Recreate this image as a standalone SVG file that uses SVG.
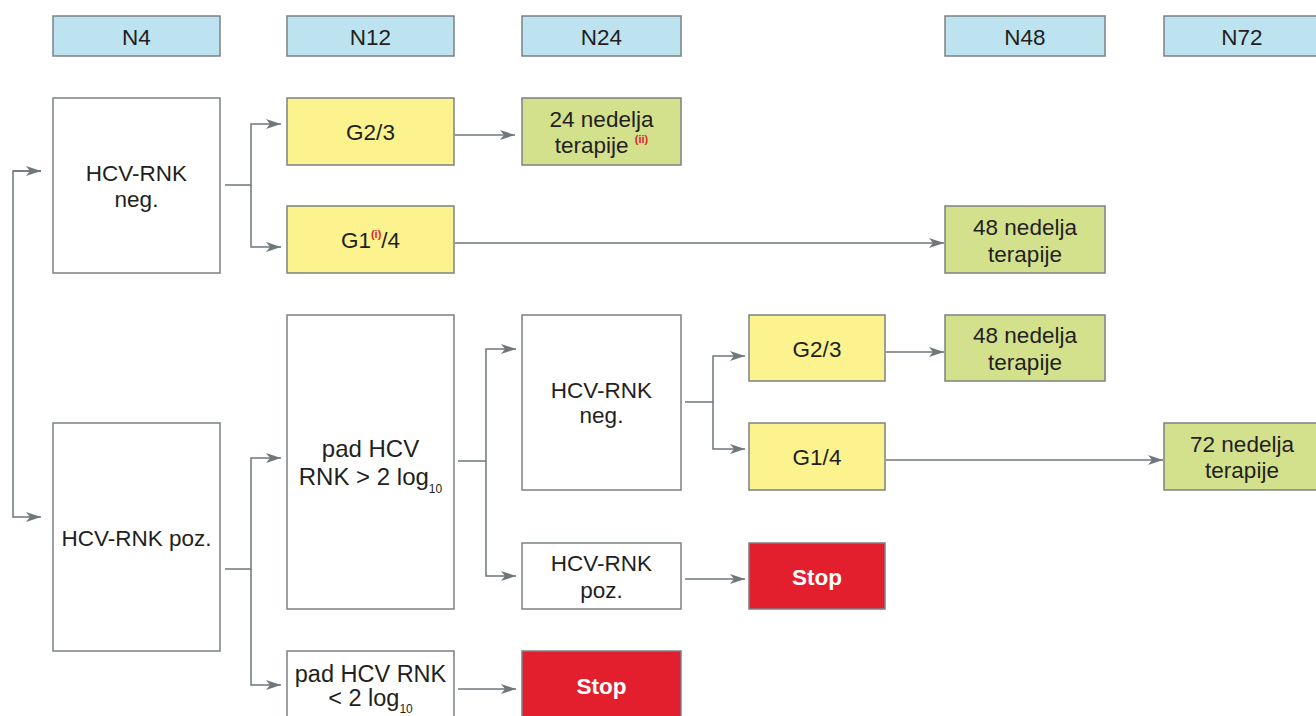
<svg xmlns="http://www.w3.org/2000/svg" width="1316" height="716" viewBox="0 0 1316 716">
  <defs>
    <style>
      text { font-family: "Liberation Sans", Arial, sans-serif; font-size: 22.5px; fill: #231f20; text-anchor: middle; }
      .hdr { fill: #bde3f1; stroke: #7b8185; stroke-width: 1.5; }
      .box { fill: #ffffff; stroke: #7b8185; stroke-width: 1.5; }
      .geno { fill: #fcf38e; stroke: #7b8185; stroke-width: 1.5; }
      .ther { fill: #d3e08c; stroke: #7b8185; stroke-width: 1.5; }
      .stop { fill: #e41f2d; stroke: #7b8185; stroke-width: 1.5; }
      .stoptxt { fill: #ffffff; font-weight: bold; }
      .big { font-size: 24px; }
      .mid { font-size: 23.5px; }
      .note { fill: #e41f2d; font-size: 11px; font-weight: bold; }
      .sub { font-size: 12px; }
      .conn { fill: none; stroke: #6e777b; stroke-width: 1.5; }
    </style>
    <marker id="arrow" markerUnits="userSpaceOnUse" markerWidth="16" markerHeight="12" refX="15" refY="6" orient="auto">
      <path d="M0,1 L15,6 L0,11 L4,6 z" fill="#6e777b"/>
    </marker>
  </defs>

  <!-- week headers -->
  <g id="header-n4"><rect class="hdr" x="53" y="16" width="167" height="40"/><text x="136.5" y="45">N4</text></g>
  <g id="header-n12"><rect class="hdr" x="287" y="16" width="167" height="40"/><text x="370.5" y="45">N12</text></g>
  <g id="header-n24"><rect class="hdr" x="522" y="16" width="159" height="40"/><text x="601.5" y="45">N24</text></g>
  <g id="header-n48"><rect class="hdr" x="945" y="16" width="160" height="40"/><text x="1025" y="45">N48</text></g>
  <g id="header-n72"><rect class="hdr" x="1164" y="16" width="160" height="40"/><text x="1242" y="45">N72</text></g>

  <!-- week 4 -->
  <g id="n4-neg"><rect class="box" x="53" y="98" width="167" height="175"/><text x="136.5" y="181">HCV-RNK</text><text x="136.5" y="207">neg.</text></g>
  <g id="n4-poz"><rect class="box" x="53" y="423" width="167" height="228"/><text x="136.5" y="546">HCV-RNK poz.</text></g>

  <!-- week 12 -->
  <g id="n12-g23"><rect class="geno" x="287" y="98" width="167" height="67"/><text x="370.5" y="140">G2/3</text></g>
  <g id="n12-g14"><rect class="geno" x="287" y="206" width="167" height="67"/><text x="370.5" y="248">G1<tspan class="note" dy="-10">(i)</tspan><tspan dy="10">/4</tspan></text></g>
  <g id="n12-drop-high"><rect class="box" x="287" y="315" width="167" height="294"/><text class="big" x="370.5" y="457">pad HCV</text><text class="big" x="370.5" y="485">RNK &gt; 2 log<tspan class="sub" dy="8">10</tspan></text></g>
  <g id="n12-drop-low"><rect class="box" x="287" y="651" width="167" height="80"/><text class="mid" x="370.5" y="682">pad HCV RNK</text><text class="mid" x="370.5" y="706">&lt; 2 log<tspan class="sub" dy="7">10</tspan></text></g>

  <!-- week 24 -->
  <g id="n24-24w"><rect class="ther" x="522" y="98" width="159" height="67"/><text x="601.5" y="127">24 nedelja</text><text x="601.5" y="153">terapije <tspan class="note" dy="-10">(ii)</tspan></text></g>
  <g id="n24-neg"><rect class="box" x="522" y="315" width="159" height="175"/><text x="601.5" y="398">HCV-RNK</text><text x="601.5" y="423">neg.</text></g>
  <g id="n24-poz"><rect class="box" x="522" y="543" width="159" height="66"/><text x="601.5" y="571">HCV-RNK</text><text x="601.5" y="598">poz.</text></g>
  <g id="n24-stop"><rect class="stop" x="522" y="651" width="159" height="80"/><text class="stoptxt" x="601.5" y="694">Stop</text></g>

  <!-- week 24 genotype split -->
  <g id="n24-g23"><rect class="geno" x="749" y="315" width="136" height="66"/><text x="817" y="357">G2/3</text></g>
  <g id="n24-g14"><rect class="geno" x="749" y="423" width="136" height="67"/><text x="817" y="465">G1/4</text></g>
  <g id="n24-poz-stop"><rect class="stop" x="749" y="543" width="136" height="66"/><text class="stoptxt" x="817" y="585">Stop</text></g>

  <!-- week 48 / 72 -->
  <g id="n48-a"><rect class="ther" x="945" y="206" width="160" height="67"/><text x="1025" y="235">48 nedelja</text><text x="1025" y="262">terapije</text></g>
  <g id="n48-b"><rect class="ther" x="945" y="315" width="160" height="66"/><text x="1025" y="343">48 nedelja</text><text x="1025" y="370">terapije</text></g>
  <g id="n72"><rect class="ther" x="1164" y="423" width="160" height="67"/><text x="1242" y="452">72 nedelja</text><text x="1242" y="478">terapije</text></g>

  <!-- connectors -->
  <g id="connectors">
    <path class="conn" d="M41,171 H13 V517 H41" marker-end="url(#arrow)"/>
    <path class="conn" d="M13,171 H41" marker-end="url(#arrow)"/>
    <path class="conn" d="M225,185 H251 V124 H281" marker-end="url(#arrow)"/>
    <path class="conn" d="M251,185 V247 H281" marker-end="url(#arrow)"/>
    <path class="conn" d="M455,135 H515" marker-end="url(#arrow)"/>
    <path class="conn" d="M455,243 H944" marker-end="url(#arrow)"/>
    <path class="conn" d="M225,569 H251 V458 H281" marker-end="url(#arrow)"/>
    <path class="conn" d="M251,569 V685 H281" marker-end="url(#arrow)"/>
    <path class="conn" d="M458,461 H486 V349 H516" marker-end="url(#arrow)"/>
    <path class="conn" d="M486,461 V576 H516" marker-end="url(#arrow)"/>
    <path class="conn" d="M458,689 H516" marker-end="url(#arrow)"/>
    <path class="conn" d="M685,402 H713 V356 H745" marker-end="url(#arrow)"/>
    <path class="conn" d="M713,402 V449 H745" marker-end="url(#arrow)"/>
    <path class="conn" d="M685,579 H745" marker-end="url(#arrow)"/>
    <path class="conn" d="M886,352 H944" marker-end="url(#arrow)"/>
    <path class="conn" d="M886,460 H1163" marker-end="url(#arrow)"/>
  </g>
</svg>
